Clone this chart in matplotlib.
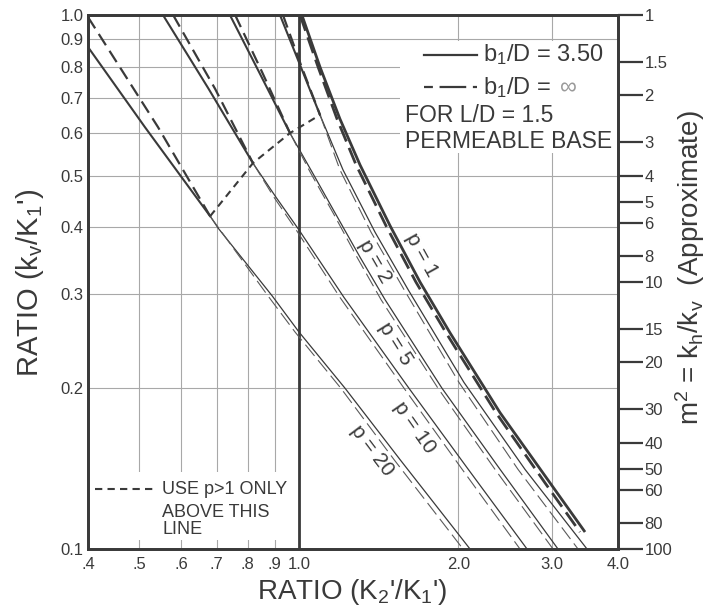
import numpy as np
import matplotlib
matplotlib.use('Agg')
import matplotlib.pyplot as plt
from matplotlib.ticker import FixedLocator, NullLocator
from matplotlib.patches import Rectangle
from matplotlib.lines import Line2D

plt.rcParams['font.family'] = ['Liberation Sans', 'DejaVu Sans']
plt.rcParams['mathtext.fontset'] = 'custom'
plt.rcParams['mathtext.rm'] = 'Liberation Sans'
plt.rcParams['mathtext.it'] = 'Liberation Sans:italic'
plt.rcParams['mathtext.bf'] = 'Liberation Sans:bold'

# ---------------- data ----------------
X_TICKS = [0.4, 0.5, 0.6, 0.7, 0.8, 0.9, 1.0, 2.0, 3.0, 4.0]
X_TICK_LABELS = ['.4', '.5', '.6', '.7', '.8', '.9', '1.0', '2.0', '3.0', '4.0']
Y_TICKS = [0.1, 0.2, 0.3, 0.4, 0.5, 0.6, 0.7, 0.8, 0.9, 1.0]
Y_TICK_LABELS = ['0.1', '0.2', '0.3', '0.4', '0.5', '0.6', '0.7', '0.8', '0.9', '1.0']
M2_TICKS = [1, 1.5, 2, 3, 4, 5, 6, 8, 10, 15, 20, 30, 40, 50, 60, 80, 100]
M2_LABELS = ['1', '1.5', '2', '3', '4', '5', '6', '8', '10', '15', '20', '30',
             '40', '50', '60', '80', '100']

# b1/D = 3.50 (solid)
P1_SOLID_X = [1.013, 1.096, 1.195, 1.304, 1.486, 1.693, 1.928, 2.396, 2.977, 3.466]
P1_SOLID_Y = [1.000, 0.799, 0.639, 0.524, 0.403, 0.316, 0.254, 0.180, 0.133, 0.1076]
P2_SOLID_X = [0.921, 1.005, 1.096, 1.211, 1.392, 1.607, 2.049, 2.670, 3.496]
P2_SOLID_Y = [1.000, 0.806, 0.650, 0.513, 0.392, 0.306, 0.205, 0.141, 0.100]
P5_SOLID_X = [0.741, 0.841, 0.962, 1.059, 1.170, 1.304, 1.454, 1.862, 2.396, 3.082]
P5_SOLID_Y = [1.000, 0.782, 0.601, 0.508, 0.426, 0.352, 0.293, 0.200, 0.141, 0.100]
P10_SOLID_X = [0.554, 0.674, 0.819, 0.905, 1.000, 1.216, 1.613, 2.076, 2.694]
P10_SOLID_Y = [1.000, 0.730, 0.528, 0.456, 0.396, 0.296, 0.200, 0.142, 0.100]
P20_SOLID_X = [0.400, 0.512, 0.680, 0.704, 0.890, 1.000, 1.222, 1.552, 2.103]
P20_SOLID_Y = [0.871, 0.617, 0.420, 0.399, 0.298, 0.255, 0.200, 0.147, 0.100]

# b1/D = infinity (dashed)
P1_DASH_X = [1.005, 1.087, 1.180, 1.282, 1.460, 1.663, 1.895, 2.354, 2.913, 3.391]
P1_DASH_Y = [1.000, 0.799, 0.639, 0.524, 0.403, 0.316, 0.254, 0.180, 0.133, 0.1076]
P2_DASH_X = [0.933, 1.009, 1.096, 1.195, 1.368, 1.579, 2.005, 2.590, 3.362]
P2_DASH_Y = [1.000, 0.806, 0.650, 0.513, 0.392, 0.306, 0.205, 0.141, 0.100]
P5_DASH_X = [0.758, 0.852, 0.962, 1.050, 1.160, 1.287, 1.429, 1.830, 2.344, 3.016]
P5_DASH_Y = [1.000, 0.782, 0.601, 0.508, 0.426, 0.352, 0.293, 0.200, 0.141, 0.100]
P10_DASH_X = [0.579, 0.695, 0.819, 0.897, 0.988, 1.195, 1.579, 2.022, 2.613]
P10_DASH_Y = [1.000, 0.727, 0.528, 0.456, 0.396, 0.296, 0.200, 0.142, 0.100]
P20_DASH_X = [0.400, 0.542, 0.680, 0.874, 0.983, 1.200, 1.512, 2.040]
P20_DASH_Y = [0.991, 0.617, 0.420, 0.298, 0.255, 0.200, 0.147, 0.100]

# "use p>1 only above this line"
BOUND_X = [0.680, 0.819, 0.962, 1.096]
BOUND_Y = [0.420, 0.528, 0.601, 0.650]

P_VALUES = [1, 2, 5, 10, 20]
LABEL_X = [1.707, 1.392, 1.518, 1.656, 1.374]
LABEL_Y = [0.355, 0.345, 0.242, 0.169, 0.153]
LABEL_ROT = [-61, -60, -58, -55, -53]

INK = '#3a3a3a'
GRID = '#a8a8a8'

fig = plt.figure(figsize=(7.07, 6.09), dpi=100)
ax = fig.add_axes([88/707, 60/609, 530/707, 534/609])
ax.set_xscale('log')
ax.set_yscale('log')
ax.set_xlim(0.4, 4.0)
ax.set_ylim(0.1, 1.0)

ax.xaxis.set_major_locator(FixedLocator(X_TICKS))
ax.xaxis.set_minor_locator(NullLocator())
ax.set_xticklabels(X_TICK_LABELS)
ax.yaxis.set_major_locator(FixedLocator(Y_TICKS))
ax.yaxis.set_minor_locator(NullLocator())
ax.set_yticklabels(Y_TICK_LABELS)
ax.tick_params(axis='both', length=0, labelsize=12, colors=INK)
ax.tick_params(axis='x', pad=6)
ax.tick_params(axis='y', pad=3)
ax.grid(True, which='major', color=GRID, lw=0.8)
for s in ax.spines.values():
    s.set_linewidth(2.0)
    s.set_color(INK)
ax.axvline(1.0, color=INK, lw=2.0, zorder=2.6)

# white boxes behind annotation text
ax.add_patch(Rectangle((0.589, 0.742), 0.41, 0.209, transform=ax.transAxes,
                       fc='white', ec='none', zorder=1.7))
ax.add_patch(Rectangle((0.003, 0.017), 0.392, 0.127, transform=ax.transAxes,
                       fc='white', ec='none', zorder=1.7))

# (x, y, index of the point where the curve meets the "p>1" boundary)
solid = [(P1_SOLID_X, P1_SOLID_Y, 0), (P2_SOLID_X, P2_SOLID_Y, 2),
         (P5_SOLID_X, P5_SOLID_Y, 2), (P10_SOLID_X, P10_SOLID_Y, 2),
         (P20_SOLID_X, P20_SOLID_Y, 2)]
dashed = [(P1_DASH_X, P1_DASH_Y, 0), (P2_DASH_X, P2_DASH_Y, 2),
          (P5_DASH_X, P5_DASH_Y, 2), (P10_DASH_X, P10_DASH_Y, 2),
          (P20_DASH_X, P20_DASH_Y, 2)]

for i, (xs, ys, k) in enumerate(solid):
    if i == 0:
        ax.plot(xs, ys, color=INK, lw=2.0, zorder=3, solid_capstyle='butt')
    else:
        ax.plot(xs[:k+1], ys[:k+1], color=INK, lw=1.5, zorder=3)
        ax.plot(xs[k:], ys[k:], color=INK, lw=0.9, zorder=3)

for i, (xs, ys, k) in enumerate(dashed):
    if i == 0:
        ln, = ax.plot(xs, ys, color=INK, lw=2.0, zorder=3)
        ln.set_dashes((6, 2.5))
    else:
        ln, = ax.plot(xs[:k+1], ys[:k+1], color=INK, lw=1.6, zorder=3)
        ln.set_dashes((6, 3))
        ln, = ax.plot(xs[k:], ys[k:], color='#5a5a5a', lw=0.8, zorder=3)
        ln.set_dashes((13, 5))

bl, = ax.plot(BOUND_X, BOUND_Y, color=INK, lw=1.5, zorder=3)
bl.set_dashes((3.5, 2.5))

for p, lx, ly, r in zip(P_VALUES, LABEL_X, LABEL_Y, LABEL_ROT):
    ax.text(lx, ly, f'p = {p}', rotation=r, rotation_mode='anchor',
            ha='center', va='center', fontsize=15, color=INK, zorder=4)

# legend (top right)
ax.add_line(Line2D([0.634, 0.734], [0.925, 0.925], transform=ax.transAxes,
                   color=INK, lw=1.6, zorder=4))
ld = Line2D([0.634, 0.734], [0.865, 0.865], transform=ax.transAxes,
            color=INK, lw=1.6, zorder=4)
ld.set_dashes((4, 3, 12, 3, 4, 3))
ax.add_line(ld)
ax.text(0.745, 0.925, r'b$_\mathrm{1}$/D = 3.50', transform=ax.transAxes,
        ha='left', va='center', fontsize=17, color=INK, zorder=4)
t_inf = ax.text(0.745, 0.865, r'b$_\mathrm{1}$/D =', transform=ax.transAxes,
                ha='left', va='center', fontsize=17, color=INK, zorder=4)
ax.text(0.598, 0.811, 'FOR L/D = 1.5', transform=ax.transAxes,
        ha='left', va='center', fontsize=16.5, color=INK, zorder=4)
ax.text(0.598, 0.764, 'PERMEABLE BASE', transform=ax.transAxes,
        ha='left', va='center', fontsize=16.5, color=INK, zorder=4)
fig.canvas.draw()
bb = t_inf.get_window_extent().transformed(ax.transAxes.inverted())
ax.text(bb.x1 + 0.018, 0.862, '∞', transform=ax.transAxes,
        ha='left', va='center', fontsize=17, color='#9a9a9a', zorder=4)

# bottom-left note
lb = Line2D([0.013, 0.126], [0.112, 0.112], transform=ax.transAxes,
            color=INK, lw=1.5, zorder=4)
lb.set_dashes((3.5, 2.5))
ax.add_line(lb)
ax.text(0.14, 0.112, 'USE p>1 ONLY', transform=ax.transAxes,
        ha='left', va='center', fontsize=13, color=INK, zorder=4)
ax.text(0.14, 0.069, 'ABOVE THIS', transform=ax.transAxes,
        ha='left', va='center', fontsize=13, color=INK, zorder=4)
ax.text(0.14, 0.037, 'LINE', transform=ax.transAxes,
        ha='left', va='center', fontsize=13, color=INK, zorder=4)

# right axis: m^2 = kh/kv = 1/(kv/K1')^2
ax2 = ax.twinx()
ax2.set_yscale('log')
ax2.set_ylim(0.1, 1.0)
ax2.yaxis.set_major_locator(FixedLocator([1/np.sqrt(m) for m in M2_TICKS]))
ax2.yaxis.set_minor_locator(NullLocator())
ax2.set_yticklabels(M2_LABELS)
ax2.tick_params(axis='y', direction='out', length=18, width=1.6, labelsize=12,
                colors=INK, pad=1)
for s in ax2.spines.values():
    s.set_linewidth(2.0)
    s.set_color(INK)

fig.text(352/707, 1-592/609, "RATIO (K$_\\mathrm{2}$'/K$_\\mathrm{1}$')",
         ha='center', va='center', fontsize=20, color=INK)
fig.text(30/707, 1-283/609, "RATIO (k$_\\mathrm{v}$/K$_\\mathrm{1}$')",
         ha='center', va='center', rotation=90, fontsize=21, color=INK)
fig.text(690/707, 1-268/609,
         "m$^\\mathrm{2}$ = k$_\\mathrm{h}$/k$_\\mathrm{v}$  (Approximate)",
         ha='center', va='center', rotation=90, fontsize=20, color=INK)

fig.savefig('out.png', dpi=100)
